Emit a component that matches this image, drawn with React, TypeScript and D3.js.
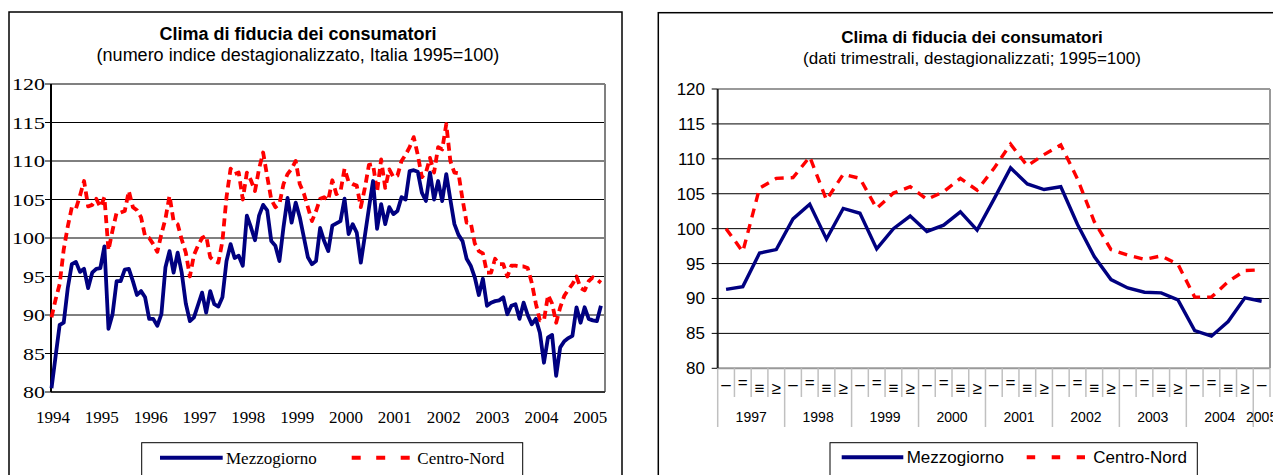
import React from 'react';
import * as d3 from 'd3';

// ---------- DATA ----------
const leftYearLabels = ['1994', '1995', '1996', '1997', '1998', '1999', '2000', '2001', '2002', '2003', '2004', '2005'];
const yTickValues = [80, 85, 90, 95, 100, 105, 110, 115, 120];

// Monthly, Jan 1994 .. Apr 2005
const mezzogiornoMonthly = [
  80.5, 84.6, 88.7, 89.0, 93.5, 96.6, 96.9, 95.6, 96.0, 93.5,
  95.5, 96.0, 96.1, 98.9, 88.2, 90.1, 94.4, 94.4, 95.9, 96.0,
  94.4, 92.6, 93.1, 92.3, 89.5, 89.5, 88.6, 90.1, 96.2, 98.3,
  95.5, 98.1, 95.5, 91.5, 89.2, 89.7, 91.3, 92.9, 90.3, 93.1,
  91.4, 91.1, 92.3, 97.0, 99.2, 97.4, 97.7, 96.4, 102.9, 101.4,
  99.7, 102.9, 104.3, 103.6, 99.6, 99.0, 97.0, 101.4, 105.2, 102.0,
  104.6, 102.7, 100.1, 97.5, 96.6, 97.0, 101.3, 99.6, 98.3, 101.6,
  101.9, 102.2, 105.1, 100.5, 101.8, 100.7, 96.8, 100.3, 103.9, 107.4,
  101.2, 104.4, 101.8, 104.0, 103.1, 103.5, 105.3, 105.0, 108.7, 108.8,
  108.6, 105.9, 104.8, 108.5, 105.0, 107.4, 104.8, 108.3, 105.0, 101.8,
  100.4, 99.6, 97.3, 96.4, 94.9, 92.6, 94.7, 91.2, 91.6, 91.8,
  91.9, 92.3, 90.1, 91.2, 91.4, 89.5, 91.6, 90.0, 88.8, 89.5,
  87.7, 83.8, 87.1, 87.4, 82.1, 85.8, 86.6, 87.0, 87.3, 91.0,
  89.0, 91.0, 89.5, 89.3, 89.2, 91.2,
];

const centroNordMonthly = [
  89.7, 92.0, 94.0, 98.5, 101.5, 104.0, 103.8, 105.5, 107.4, 104.1,
  104.3, 105.1, 104.0, 105.3, 98.4, 101.0, 103.3, 103.3, 103.5, 106.1,
  104.0, 103.6, 102.7, 100.2, 100.0, 99.2, 98.2, 100.5, 102.5, 105.5,
  102.2, 101.8, 99.8, 98.1, 95.0, 97.8, 99.0, 100.0, 100.3, 97.5,
  97.0, 96.8, 99.6, 105.3, 109.0, 108.3, 108.5, 105.0, 108.5, 107.5,
  106.1, 109.0, 111.1, 108.0, 105.0, 104.0, 104.4, 107.0, 108.3, 109.0,
  110.0, 107.0, 105.8, 104.0, 102.2, 103.5, 105.1, 105.3, 104.9, 107.5,
  105.7, 106.0, 109.0, 107.3, 107.0, 106.8, 104.0, 106.5, 109.5, 109.6,
  106.0, 110.2, 106.5, 108.9, 107.9, 108.1, 110.0, 110.8, 111.8, 113.1,
  110.8, 107.9, 108.5, 110.4, 108.5, 111.8, 111.5, 114.8, 110.0, 108.5,
  108.4, 105.0, 102.0, 102.0, 99.3, 98.3, 98.0, 95.5, 95.5, 97.3,
  96.6, 96.6, 95.0, 96.4, 96.4, 96.3, 96.3, 96.1, 94.2, 91.5,
  89.3, 89.3, 92.6, 91.5, 89.0, 91.0, 92.5, 93.3, 94.0, 95.0,
  93.5, 93.2, 94.4, 94.9, 94.6, 94.2,
];

// Quarterly, 1997 Q1 .. 2005 Q1
const quarterGlyphs = ['–', '=', '≡', '≥'];
const rightYears = ['1997', '1998', '1999', '2000', '2001', '2002', '2003', '2004', '2005'];
const mezzogiornoQuarterly = [
  91.3, 91.7, 96.5, 97.0, 101.4, 103.5, 98.5, 102.9, 102.2, 97.1, 100.0, 101.8,
  99.6, 100.5, 102.4, 99.8, 104.2, 108.7, 106.4, 105.6, 106.0, 100.6, 96.0, 92.7,
  91.5, 90.9, 90.8, 89.8, 85.4, 84.6, 86.7, 90.1, 89.6,
];
const centroNordQuarterly = [
  100.0, 96.7, 105.8, 107.2, 107.3, 110.3, 104.1, 107.8, 107.2, 102.9, 105.1, 106.0,
  104.2, 105.3, 107.2, 105.5, 108.6, 112.1, 109.0, 110.6, 112.0, 107.1, 101.0, 97.0,
  96.2, 95.6, 96.1, 94.9, 90.2, 90.2, 92.4, 94.0, 94.1,
];

const titleText = 'Clima di fiducia dei consumatori';
const leftSubtitle = '(numero indice destagionalizzato, Italia 1995=100)';
const rightSubtitle = '(dati trimestrali, destagionalizzati; 1995=100)';
const seriesNames = ['Mezzogiorno', 'Centro-Nord'];

// ---------- STYLE ----------
const SANS = '"Liberation Sans", Arial, Helvetica, sans-serif';
const SERIF = '"Liberation Serif", "Times New Roman", serif';
const BLUE = '#000080';
const RED = '#FF0000';

function LeftChart() {
  const L = 51, R = 605, T = 84, B = 392;
  const x = d3.scaleLinear().domain([0, 136]).range([L + 0.5, R]);
  const y = d3.scaleLinear().domain([80, 120]).range([B, T]);
  const line = d3.line<number>().x((_, i) => x(i)).y((d) => y(d));
  const cx = 298;
  return (
    <g>
      <rect x={9} y={12} width={613} height={480} fill="#fff" stroke="#000" strokeWidth={1.5} />
      <text x={cx} y={40} textAnchor="middle" fontFamily={SANS} fontWeight="bold" fontSize={18}>{titleText}</text>
      <text x={cx} y={61} textAnchor="middle" fontFamily={SANS} fontSize={18}>{leftSubtitle}</text>
      {yTickValues.filter((v) => v > 80 && v < 120).map((v) => (
        <line key={v} x1={L} x2={R} y1={y(v)} y2={y(v)} stroke={v === 100 ? '#808080' : '#000'} strokeWidth={v === 100 ? 2 : 1} />
      ))}
      <line x1={L} x2={R} y1={T} y2={T} stroke="#808080" strokeWidth={2} />
      <line x1={R} x2={R} y1={T} y2={B} stroke="#808080" strokeWidth={2} />
      <line x1={L} x2={R} y1={B} y2={B} stroke="#333" strokeWidth={2} />
      <line x1={L} x2={L} y1={T} y2={B} stroke="#000" strokeWidth={2} />
      {yTickValues.map((v) => (
        <g key={v}>
          <line x1={L - 6} x2={L} y1={y(v)} y2={y(v)} stroke="#000" strokeWidth={1} />
          <text x={45} y={y(v) + 6} textAnchor="end" fontFamily={SERIF} fontSize={17}
            textLength={String(v).length * 11} lengthAdjust="spacingAndGlyphs">{v}</text>
        </g>
      ))}
      {leftYearLabels.map((lab, k) => (
        <text key={lab} x={x(k * 12) + 1.5} y={423} textAnchor="middle" fontFamily={SERIF} fontSize={17}>{lab}</text>
      ))}
      <path d={line(centroNordMonthly) || ''} fill="none" stroke={RED} strokeWidth={3.8} strokeDasharray="8,5" strokeLinejoin="round" />
      <path d={line(mezzogiornoMonthly) || ''} fill="none" stroke={BLUE} strokeWidth={3.8} strokeLinejoin="round" />
      {/* legend */}
      <rect x={141.7} y={442.7} width={381} height={60} fill="#fff" stroke="#000" strokeWidth={1} />
      <line x1={160} x2={222.7} y1={457.7} y2={457.7} stroke={BLUE} strokeWidth={4} />
      <text x={226} y={463.5} fontFamily={SERIF} fontSize={17}>{seriesNames[0]}</text>
      <line x1={351.7} x2={410} y1={457.7} y2={457.7} stroke={RED} strokeWidth={4} strokeDasharray="9,15.5" />
      <text x={417.3} y={463.5} fontFamily={SERIF} fontSize={17}>{seriesNames[1]}</text>
    </g>
  );
}

function RightChart() {
  const L = 717.7, R = 1270, T = 89, B = 368.3;
  const n = mezzogiornoQuarterly.length;
  const idx = d3.range(n);
  const x = d3.scaleBand<number>().domain(idx).range([L, R]).padding(0);
  const bw = x.bandwidth();
  const xc = (i: number) => (x(i) as number) + bw / 2;
  const y = d3.scaleLinear().domain([80, 120]).range([B, T]);
  const line = d3.line<number>().x((_, i) => xc(i)).y((d) => y(d));
  const cx = 972;
  const glyphDy: Record<string, number> = { '–': -4, '=': -6, '≡': 0, '≥': 0 };
  return (
    <g>
      <rect x={658.3} y={12.7} width={700} height={480} fill="#fff" stroke="#000" strokeWidth={1.5} />
      <text x={cx} y={42.7} textAnchor="middle" fontFamily={SANS} fontWeight="bold" fontSize={17}>{titleText}</text>
      <text x={cx} y={64} textAnchor="middle" fontFamily={SANS} fontSize={17}>{rightSubtitle}</text>
      {yTickValues.filter((v) => v > 80 && v < 120).map((v) => (
        <line key={v} x1={L} x2={R} y1={y(v)} y2={y(v)} stroke="#000" strokeWidth={1} />
      ))}
      <line x1={L} x2={R} y1={T} y2={T} stroke="#999" strokeWidth={2} />
      <line x1={R} x2={R} y1={T} y2={B} stroke="#999" strokeWidth={2} />
      <line x1={L} x2={R} y1={B} y2={B} stroke="#999" strokeWidth={2} />
      <line x1={L} x2={L} y1={T} y2={B} stroke="#222" strokeWidth={2} />
      {yTickValues.map((v) => (
        <g key={v}>
          <line x1={L - 6} x2={L} y1={y(v)} y2={y(v)} stroke="#000" strokeWidth={1} />
          <text x={705} y={y(v) + 6} textAnchor="end" fontFamily={SANS} fontSize={17}>{v}</text>
        </g>
      ))}
      {d3.range(n + 1).map((k) => {
        const xx = k < n ? (x(k) as number) : R;
        const yearEdge = k % 4 === 0;
        return <line key={k} x1={xx} x2={xx} y1={B} y2={yearEdge ? 427 : 397} stroke="#c0c0c0" strokeWidth={1.5} />;
      })}
      {idx.map((i) => {
        const g = quarterGlyphs[i % 4];
        return (
          <text key={i} x={xc(i)} y={394 + glyphDy[g]} textAnchor="middle" fontFamily={SANS} fontSize={17}>{g}</text>
        );
      })}
      {rightYears.map((yr, k) => {
        const first = k * 4;
        const last = Math.min(first + 3, n - 1);
        const mid = ((x(first) as number) + (x(last) as number) + bw) / 2;
        return <text key={yr} x={mid} y={421.7} textAnchor="middle" fontFamily={SANS} fontSize={14}>{yr}</text>;
      })}
      <path d={line(centroNordQuarterly) || ''} fill="none" stroke={RED} strokeWidth={3.4} strokeDasharray="9,7" strokeLinejoin="miter" />
      <path d={line(mezzogiornoQuarterly) || ''} fill="none" stroke={BLUE} strokeWidth={3.4} strokeLinejoin="miter" />
      {/* legend */}
      <rect x={830} y={442.7} width={367.3} height={60} fill="#fff" stroke="#000" strokeWidth={1} />
      <line x1={841.7} x2={903.3} y1={457.3} y2={457.3} stroke={BLUE} strokeWidth={4} />
      <text x={906.7} y={463.3} fontFamily={SANS} fontSize={17}>{seriesNames[0]}</text>
      <line x1={1026.7} x2={1085} y1={457.3} y2={457.3} stroke={RED} strokeWidth={4} strokeDasharray="8.5,16.5" />
      <text x={1093.3} y={463.3} fontFamily={SANS} fontSize={17}>{seriesNames[1]}</text>
    </g>
  );
}

export default function App() {
  return (
    <svg width={1273} height={475} viewBox="0 0 1273 475"
      style={{ position: 'absolute', left: 0, top: 0, display: 'block', background: '#fff' }}>
      <rect x={0} y={0} width={1273} height={475} fill="#fff" />
      <LeftChart />
      <RightChart />
    </svg>
  );
}
